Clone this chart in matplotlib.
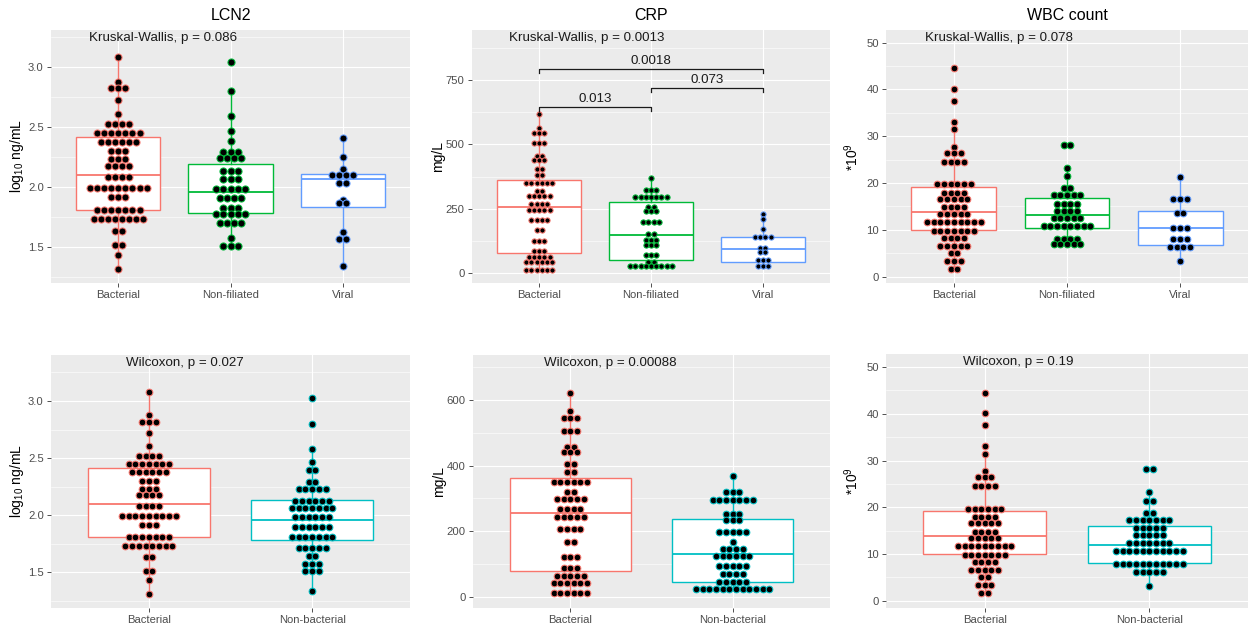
import numpy as np
import matplotlib
matplotlib.use('Agg')
import matplotlib.pyplot as plt
from matplotlib.ticker import AutoMinorLocator, FixedLocator

plt.rcParams['font.family'] = ['Liberation Sans', 'DejaVu Sans']
plt.rcParams['mathtext.default'] = 'regular'

# ---- groups and colours ----
groups3 = ['Bacterial', 'Non-filiated', 'Viral']
groups2 = ['Bacterial', 'Non-bacterial']
col_bact = '#F8766D'
col_nf = '#00BA38'
col_vir = '#619CFF'
col_nonbact = '#00BFC4'

# ---- LCN2 (log10 ng/mL): dot rows (bin value, dots in row) ----
lcn2_bact_y = [3.081, 2.875, 2.82, 2.722, 2.606, 2.522, 2.45, 2.375, 2.298, 2.231,
               2.175, 2.083, 1.992, 1.917, 1.808, 1.728, 1.633, 1.514, 1.43, 1.314]
lcn2_bact_n = [1, 1, 3, 1, 1, 4, 7, 6, 3, 3, 4, 4, 9, 3, 7, 8, 2, 2, 1, 1]
lcn2_nf_y = [3.036, 2.797, 2.592, 2.467, 2.383, 2.292, 2.236, 2.131, 2.061, 1.983,
             1.908, 1.825, 1.772, 1.695, 1.57, 1.508]
lcn2_nf_n = [1, 1, 1, 1, 1, 3, 4, 3, 3, 5, 4, 3, 5, 4, 1, 3]
lcn2_vir_y = [2.408, 2.244, 2.147, 2.10, 2.03, 1.89, 1.86, 1.62, 1.565, 1.342]
lcn2_vir_n = [1, 1, 1, 4, 2, 1, 2, 1, 2, 1]
lcn2_nonbact_y = [3.024, 2.796, 2.582, 2.463, 2.393, 2.291, 2.229, 2.124, 2.06, 1.981,
                  1.899, 1.809, 1.71, 1.64, 1.57, 1.511, 1.336]
lcn2_nonbact_n = [1, 1, 1, 1, 2, 2, 5, 6, 7, 6, 6, 7, 5, 2, 3, 3, 1]

# ---- CRP (mg/L) ----
crp_bact_y = [620, 565, 544, 504, 455, 440, 404, 381, 349, 320, 299, 267, 244, 206,
              166, 122, 86, 63, 41, 10]
crp_bact_n = [1, 1, 3, 3, 2, 3, 2, 2, 6, 2, 5, 4, 5, 4, 2, 3, 3, 5, 6, 6]
crp_nf_y = [368, 322, 296, 257, 241, 199, 150, 127, 108, 69, 43, 26]
crp_nf_n = [1, 3, 7, 2, 3, 4, 2, 3, 3, 3, 2, 9]
crp_vir_y = [230, 208, 169, 140, 95, 79, 49, 27]
crp_vir_n = [1, 1, 1, 4, 2, 2, 3, 3]
crp_nonbact_y = [368, 319, 295, 253, 234, 198, 168, 145, 123, 93, 68, 45, 24]
crp_nonbact_n = [1, 3, 7, 3, 3, 5, 1, 4, 6, 5, 4, 5, 12]

# ---- WBC count (*10^9) ----
wbc_bact_y = [44.5, 40.1, 37.6, 33.1, 31.5, 27.8, 26.4, 24.5, 19.7, 17.9, 16.7, 14.8,
              13.4, 11.75, 9.83, 8.2, 6.56, 5.0, 3.3, 1.58]
wbc_bact_n = [1, 1, 1, 1, 1, 1, 3, 4, 6, 4, 5, 4, 5, 9, 7, 4, 5, 2, 3, 2]
wbc_nf_y = [28.1, 23.2, 21.5, 18.95, 17.5, 15.5, 14.0, 12.5, 10.9, 8.06, 7.0]
wbc_nf_n = [2, 1, 1, 2, 5, 4, 4, 5, 8, 4, 5]
wbc_vir_y = [21.3, 16.7, 13.7, 10.4, 8.0, 6.3, 3.35]
wbc_vir_n = [1, 3, 2, 3, 3, 4, 1]
wbc_nonbact_y = [28.2, 23.3, 21.3, 18.85, 17.2, 15.6, 14.0, 12.4, 10.6, 7.9, 6.1, 3.15]
wbc_nonbact_n = [2, 1, 2, 2, 7, 5, 5, 7, 11, 11, 5, 1]

# ---- box statistics: [lower whisker, Q1, median, Q3, upper whisker] ----
lcn2_box = {'Bacterial': [1.314, 1.806, 2.097, 2.411, 3.081],
            'Non-filiated': [1.508, 1.783, 1.953, 2.186, 2.797],
            'Viral': [1.342, 1.833, 2.064, 2.103, 2.408],
            'Non-bacterial': [1.336, 1.783, 1.958, 2.133, 2.582]}
crp_box = {'Bacterial': [10, 78, 255, 361, 620],
           'Non-filiated': [26, 51, 148, 276, 368],
           'Viral': [27, 42, 91, 138, 230],
           'Non-bacterial': [24, 44, 129, 237, 368]}
wbc_box = {'Bacterial': [1.58, 9.97, 13.75, 19.2, 31.5],
           'Non-filiated': [7.0, 10.5, 13.1, 16.9, 23.2],
           'Viral': [3.35, 6.7, 10.5, 14.1, 21.3],
           'Non-bacterial': [3.15, 8.06, 11.9, 15.9, 23.3]}

# ---- test labels ----
kw_labels = ['Kruskal-Wallis, p = 0.086', 'Kruskal-Wallis, p = 0.0013',
             'Kruskal-Wallis, p = 0.078']
wx_labels = ['Wilcoxon, p = 0.027', 'Wilcoxon, p = 0.00088', 'Wilcoxon, p = 0.19']
crp_pairs = [(1, 2), (2, 3), (1, 3)]
crp_pair_p = ['0.013', '0.073', '0.0018']
crp_pair_y = [647, 720, 794]

W, H = 1258, 631
fig = plt.figure(figsize=(W / 100, H / 100), dpi=100)


def add_panel(left, top, right, bottom):
    return fig.add_axes([left / W, 1 - bottom / H, (right - left) / W, (bottom - top) / H])


def draw_panel(ax, groups, dots, boxes, colors, ylim, yticks, yfmt, ylabel,
               ptext, ptext_x, title=None):
    n = len(groups)
    xs = np.arange(1, n + 1)

    # boxplots
    stats = [dict(whislo=b[0], q1=b[1], med=b[2], q3=b[3], whishi=b[4], fliers=[])
             for b in boxes]
    bp = ax.bxp(stats, positions=xs, widths=0.75, showcaps=False, showfliers=False,
                patch_artist=True, manage_ticks=False, zorder=2)
    for i, c in enumerate(colors):
        bp['boxes'][i].set(facecolor='white', edgecolor=c, lw=1.0)
        bp['medians'][i].set(color=c, lw=1.3)
        bp['whiskers'][2 * i].set(color=c, lw=1.0)
        bp['whiskers'][2 * i + 1].set(color=c, lw=1.0)

    ax.set_xlim(0.4, n + 0.6)
    ax.set_ylim(*ylim)
    ax.set_facecolor('#EBEBEB')
    for s in ax.spines.values():
        s.set_visible(False)
    ax.set_axisbelow(True)
    ax.yaxis.set_major_locator(FixedLocator(yticks))
    ax.yaxis.set_minor_locator(AutoMinorLocator(2))
    ax.set_xticks(xs)
    ax.set_xticklabels(groups)
    ax.set_yticklabels([yfmt.format(t) for t in yticks])
    ax.grid(which='major', color='white', lw=0.8)
    ax.grid(which='minor', axis='y', color='white', lw=0.4)
    ax.tick_params(which='major', length=2.7, width=0.6, color='#333333',
                   labelcolor='#4D4D4D', labelsize=8.1, pad=2.5)
    ax.tick_params(which='minor', length=0)

    # centred dot stacks, binwidth = data range / 30
    ally = np.concatenate([np.asarray(d[0]) for d in dots])
    bw = (ally.max() - ally.min()) / 30
    bb = ax.get_position()
    px_y = bb.height * H / (ylim[1] - ylim[0])
    px_x = bb.width * W / (n + 0.2)
    diam = bw * px_y
    dx = diam / px_x
    for i, ((yv, cnt), c) in enumerate(zip(dots, colors)):
        px, py = [], []
        for y, k in zip(yv, cnt):
            off = (np.arange(k) - (k - 1) / 2) * dx
            px.extend(xs[i] + off)
            py.extend([y] * k)
        ax.plot(px, py, 'o', ms=diam * 0.72, mfc='black', mec=c, mew=0.75,
                ls='none', zorder=3)

    ax.text(ptext_x, 0.967, ptext, transform=ax.transAxes, ha='left', va='center',
            fontsize=9.6, color='#1A1A1A')
    ax.text(-34 / (bb.width * W), 0.5, ylabel, transform=ax.transAxes, rotation=90,
            ha='center', va='center', fontsize=10, color='black')
    if title:
        ax.text(0.5, 1 + 14.5 / (bb.height * H), title, transform=ax.transAxes,
                ha='center', va='center', fontsize=11.5, color='black')
    return ax


# top row: three groups
ax1 = add_panel(51, 30, 410, 283)
draw_panel(ax1, groups3,
           [(lcn2_bact_y, lcn2_bact_n), (lcn2_nf_y, lcn2_nf_n), (lcn2_vir_y, lcn2_vir_n)],
           [lcn2_box[g] for g in groups3], [col_bact, col_nf, col_vir],
           (1.197, 3.306), [1.5, 2.0, 2.5, 3.0], '{:.1f}', 'log$_{10}$ ng/mL',
           kw_labels[0], 0.106, title='LCN2')

ax2 = add_panel(472, 30, 830, 283)
draw_panel(ax2, groups3,
           [(crp_bact_y, crp_bact_n), (crp_nf_y, crp_nf_n), (crp_vir_y, crp_vir_n)],
           [crp_box[g] for g in groups3], [col_bact, col_nf, col_vir],
           (-40, 946), [0, 250, 500, 750], '{:.0f}', 'mg/L',
           kw_labels[1], 0.103, title='CRP')
for (a, b), p, y in zip(crp_pairs, crp_pair_p, crp_pair_y):
    ax2.plot([a, a, b, b], [y - 17, y, y, y - 17], color='#1A1A1A', lw=0.9, zorder=4)
    ax2.text((a + b) / 2, y + 8, p, ha='center', va='bottom', fontsize=9.6,
             color='#1A1A1A')

ax3 = add_panel(886, 30, 1248, 283)
draw_panel(ax3, groups3,
           [(wbc_bact_y, wbc_bact_n), (wbc_nf_y, wbc_nf_n), (wbc_vir_y, wbc_vir_n)],
           [wbc_box[g] for g in groups3], [col_bact, col_nf, col_vir],
           (-1.35, 52.7), [0, 10, 20, 30, 40, 50], '{:.0f}', '*10$^{9}$',
           kw_labels[2], 0.107, title='WBC count')

# bottom row: bacterial vs non-bacterial
ax4 = add_panel(51, 355, 410, 608)
draw_panel(ax4, groups2,
           [(lcn2_bact_y, lcn2_bact_n), (lcn2_nonbact_y, lcn2_nonbact_n)],
           [lcn2_box[g] for g in groups2], [col_bact, col_nonbact],
           (1.187, 3.403), [1.5, 2.0, 2.5, 3.0], '{:.1f}', 'log$_{10}$ ng/mL',
           wx_labels[0], 0.209)

ax5 = add_panel(473, 355, 830, 608)
draw_panel(ax5, groups2,
           [(crp_bact_y, crp_bact_n), (crp_nonbact_y, crp_nonbact_n)],
           [crp_box[g] for g in groups2], [col_bact, col_nonbact],
           (-34.5, 737), [0, 200, 400, 600], '{:.0f}', 'mg/L',
           wx_labels[1], 0.199)

ax6 = add_panel(886, 354, 1248, 608)
draw_panel(ax6, groups2,
           [(wbc_bact_y, wbc_bact_n), (wbc_nonbact_y, wbc_nonbact_n)],
           [wbc_box[g] for g in groups2], [col_bact, col_nonbact],
           (-1.56, 52.8), [0, 10, 20, 30, 40, 50], '{:.0f}', '*10$^{9}$',
           wx_labels[2], 0.213)

fig.savefig('out.png', dpi=100, facecolor='white')
